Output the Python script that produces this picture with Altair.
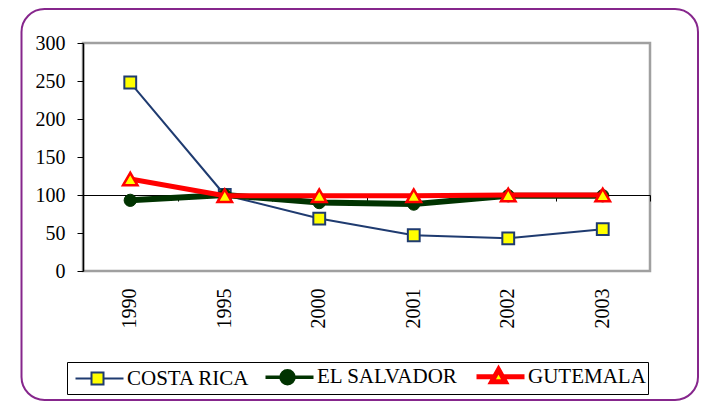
import altair as alt
import pandas as pd

years = ["1990", "1995", "2000", "2001", "2002", "2003"]
series_names = ["COSTA RICA", "EL SALVADOR", "GUTEMALA"]
costa_rica = [248, 100, 69, 47, 43, 55]
el_salvador = [93, 100, 90, 88, 99, 99]
guatemala = [121, 99, 99, 99, 100, 100]
y_ticks = [0, 50, 100, 150, 200, 250, 300]

line_colors = ["#1f3b70", "#003300", "#ff0000"]
marker_fills = ["#ffff00", "#003300", "#ffff00"]
marker_shapes = ["square", "circle", "triangle-up"]
line_widths = [2, 6, 5]
legend_line_widths = [2, 5, 4]
marker_sizes = [140, 150, 210]
marker_stroke_widths = [2, 1, 2.5]
# legend glyphs: line with marker; unit = 10 px (symbolSize 400), extending to the right
legend_paths = [
    "M-0.6,0H1M2.2,0H4.2M1,-0.6H2.2V0.6H1Z",
    "M-0.6,0H4.2M0.95,0A0.65,0.65,0,1,0,2.25,0A0.65,0.65,0,1,0,0.95,0Z",
    "M-0.6,0H1.1M2.1,0H4.2M1.6,-0.72L2.28,0.5H0.92Z",
]

rows = []
for name, vals in zip(series_names, [costa_rica, el_salvador, guatemala]):
    for yr, v in zip(years, vals):
        rows.append({"year": yr, "series": name, "value": v})
df = pd.DataFrame(rows)

FONT = "Liberation Serif, Times New Roman, DejaVu Serif, serif"
W, H = 567, 228

xscale = alt.Scale(domain=years, paddingInner=0, paddingOuter=0)
yscale = alt.Scale(domain=[0, 300], nice=False)

label_axis = alt.Axis(orient="bottom", domain=False, ticks=False, labelAngle=-90,
                      labelPadding=17, labelFont=FONT, labelFontSize=20,
                      labelColor="black", title=None, grid=False)
tick_axis = alt.Axis(orient="bottom", offset=-76, domain=True, domainColor="black",
                     domainWidth=1, ticks=True, tickBand="extent", tickColor="black",
                     tickSize=6, labels=False, title=None, grid=False)
y_axis = alt.Axis(values=y_ticks, domainColor="black", domainWidth=1.5,
                  tickColor="black", tickSize=6, labelFont=FONT, labelFontSize=20,
                  labelColor="black", labelPadding=12, grid=False, title=None)

base = alt.Chart(df)

frame = alt.Chart(pd.DataFrame({"a": [0]})).mark_rect(
    fill="white", fillOpacity=0, stroke="#86268c", strokeWidth=2, cornerRadius=23
).encode(
    x=alt.value(-61.5), x2=alt.value(615), y=alt.value(-34), y2=alt.value(357)
)

layers = [frame]
for i, name in enumerate(series_names):
    ln_axis = label_axis if i == 0 else None
    pt_axis = tick_axis if i == 0 else None
    line = base.transform_filter(alt.datum.series == name).mark_line(
        color=line_colors[i], strokeWidth=line_widths[i]
    ).encode(
        x=alt.X("year:N", scale=xscale, axis=ln_axis),
        y=alt.Y("value:Q", scale=yscale, axis=y_axis),
    )
    pts = base.transform_filter(alt.datum.series == name).mark_point(
        filled=True, opacity=1, shape=marker_shapes[i], size=marker_sizes[i],
        fill=marker_fills[i], stroke=line_colors[i], strokeWidth=marker_stroke_widths[i]
    ).encode(
        x=alt.X("year:N", scale=xscale, axis=pt_axis),
        y=alt.Y("value:Q", scale=yscale, axis=y_axis),
    )
    layers += [line, pts]

leg = alt.Legend(title=None, orient="none", legendX=-16, legendY=319,
                 direction="horizontal", columns=3, symbolSize=400,
                 labelFont=FONT, labelFontSize=21, labelColor="black", labelLimit=0,
                 labelOffset=33, columnPadding=8, padding=2,
                 strokeColor="black", fillColor="white")

legend_layer = base.transform_filter("false").mark_point(filled=True, opacity=1).encode(
    shape=alt.Shape("series:N", scale=alt.Scale(domain=series_names, range=legend_paths), legend=leg),
    fill=alt.Fill("series:N", scale=alt.Scale(domain=series_names, range=marker_fills), legend=leg),
    stroke=alt.Stroke("series:N", scale=alt.Scale(domain=series_names, range=line_colors), legend=leg),
    strokeWidth=alt.StrokeWidth("series:N", scale=alt.Scale(domain=series_names, range=legend_line_widths), legend=leg),
)
layers.append(legend_layer)

chart = alt.layer(*layers).resolve_axis(x="independent").properties(
    width=W, height=H,
    autosize=alt.AutoSizeParams(type="none"),
    padding={"left": 75, "top": 35, "right": 50, "bottom": 131},
    background="white",
).configure_view(stroke="#a0a0a0", strokeWidth=2.5)

chart.save("out.html", embed_options={"renderer": "svg", "actions": False})
